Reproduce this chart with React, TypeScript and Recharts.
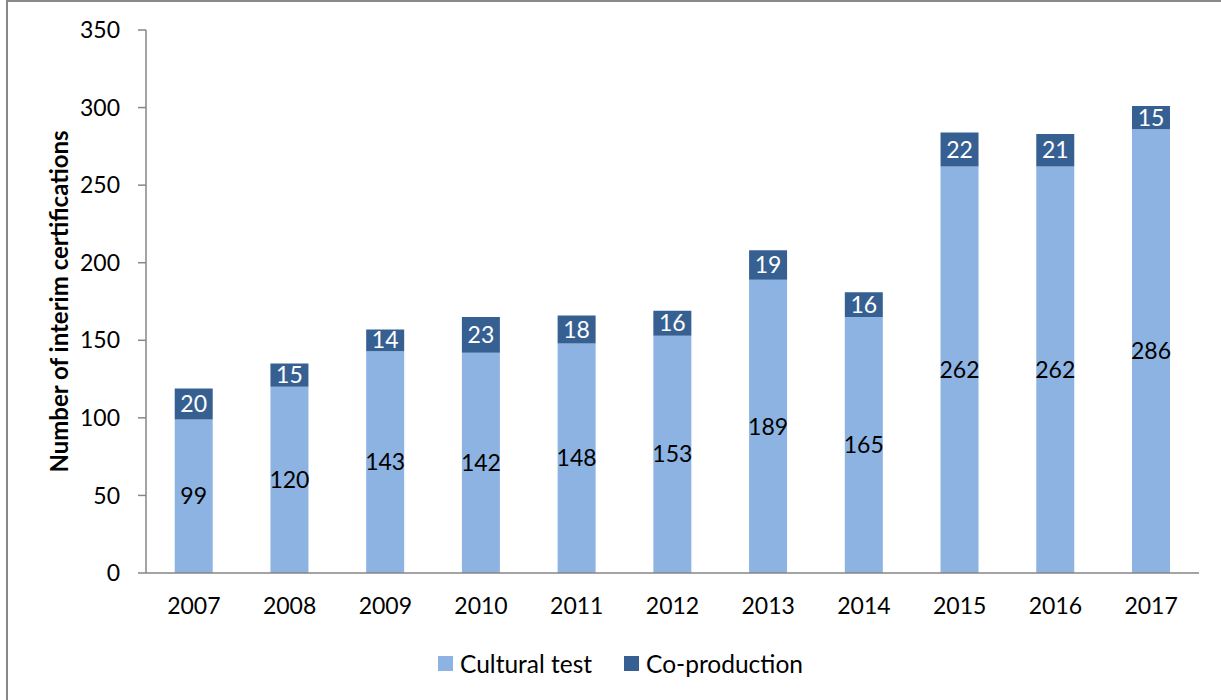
import React from "react";
import { ComposedChart, Bar, XAxis, YAxis, LabelList, Legend } from "recharts";

const years = ["2007", "2008", "2009", "2010", "2011", "2012", "2013", "2014", "2015", "2016", "2017"];
const culturalTest = [99, 120, 143, 142, 148, 153, 189, 165, 262, 262, 286];
const coProduction = [20, 15, 14, 23, 18, 16, 19, 16, 22, 21, 15];
const yTicks = [0, 50, 100, 150, 200, 250, 300, 350];
const boundaryTicks = years.map((_, i) => i).concat([years.length]);

const data = years.map((y, i) => ({ year: y, cultural: culturalTest[i], co: coProduction[i] }));

const FONT = "Lato, 'Open Sans', sans-serif";
const LIGHT = "#8DB3E2";
const DARK = "#376092";
const AXIS = "#868686";

const renderLegend = () => (
  <div
    style={{
      display: "flex",
      justifyContent: "center",
      alignItems: "center",
      fontFamily: FONT,
      fontSize: 24.5,
      color: "#000",
      height: 30,
      paddingLeft: 20,
    }}
  >
    <span style={{ display: "inline-block", width: 15, height: 15, background: LIGHT, marginRight: 7 }} />
    <span style={{ marginRight: 32 }}>Cultural test</span>
    <span style={{ display: "inline-block", width: 15, height: 15, background: DARK, marginRight: 7 }} />
    <span>Co-production</span>
  </div>
);

const YLabel = (props: any) => {
  const vb = props.viewBox || {};
  const cx = 58;
  const cy = vb.y + vb.height / 2;
  return (
    <text
      x={cx}
      y={cy}
      transform={`rotate(-90, ${cx}, ${cy})`}
      textAnchor="middle"
      dominantBaseline="central"
      style={{ fontFamily: FONT, fontSize: 24, fontWeight: 700, fill: "#000" }}
    >
      Number of interim certifications
    </text>
  );
};

export default function App() {
  return (
    <div style={{ position: "absolute", left: 0, top: 0, width: 1221, height: 700, background: "#fff", overflow: "hidden" }}>
      <div
        style={{
          position: "absolute",
          left: 6,
          top: 0,
          width: 1230,
          height: 720,
          border: "2px solid #898989",
          boxSizing: "border-box",
        }}
      />
      <div style={{ position: "absolute", left: 0, top: 0 }}>
        <ComposedChart
          width={1221}
          height={700}
          data={data}
          barCategoryGap="30%"
          margin={{ top: 30, right: 22, bottom: 37, left: 46 }}
        >
          <XAxis
            xAxisId="edges"
            type="number"
            domain={[0, years.length]}
            ticks={boundaryTicks}
            height={0}
            axisLine={false}
            tickLine={{ stroke: AXIS, strokeWidth: 1.5 }}
            tickSize={8}
            tick={() => <g />}
            interval={0}
            allowDataOverflow
          />
          <XAxis
            dataKey="year"
            axisLine={{ stroke: AXIS, strokeWidth: 1.5 }}
            tickLine={false}
            tickSize={8}
            tickMargin={17}
            height={60}
            tick={{ fontFamily: FONT, fontSize: 23, fill: "#000" }}
            interval={0}
          />
          <YAxis
            domain={[0, 350]}
            ticks={yTicks}
            width={100}
            axisLine={{ stroke: AXIS, strokeWidth: 1.5 }}
            tickLine={{ stroke: AXIS, strokeWidth: 1.5 }}
            tickSize={8}
            tickMargin={18}
            tick={{ fontFamily: FONT, fontSize: 23, fill: "#000" }}
            label={<YLabel />}
          />
          <Legend
            content={renderLegend}
            wrapperStyle={{ position: "absolute", top: 648, left: 0, width: 1221 }}
          />
          <Bar dataKey="cultural" name="Cultural test" stackId="a" fill={LIGHT} isAnimationActive={false}>
            <LabelList dataKey="cultural" position="center" style={{ fontFamily: FONT, fontSize: 23, fill: "#000" }} />
          </Bar>
          <Bar dataKey="co" name="Co-production" stackId="a" fill={DARK} isAnimationActive={false}>
            <LabelList dataKey="co" position="center" style={{ fontFamily: FONT, fontSize: 23, fill: "#fff" }} />
          </Bar>
        </ComposedChart>
      </div>
    </div>
  );
}
